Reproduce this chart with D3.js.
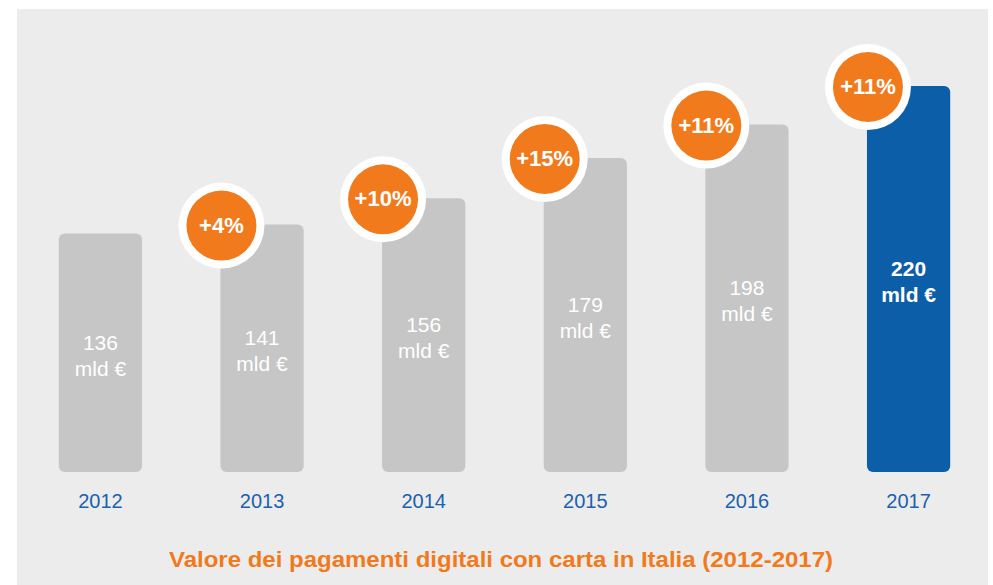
<!DOCTYPE html>
<meta charset="utf-8">
<style>
  body { margin: 0; background: #fff; }
  text { font-family: "Liberation Sans", Arial, Helvetica, sans-serif; }
</style>
<body>
<script src="https://cdn.jsdelivr.net/npm/d3@7"></script>
<script>
// data
let years = ["2012", "2013", "2014", "2015", "2016", "2017"];
let values = [136, 141, 156, 179, 198, 220];
let growth = [null, "+4%", "+10%", "+15%", "+11%", "+11%"];
let unit = "mld €";
let title = "Valore dei pagamenti digitali con carta in Italia (2012-2017)";

let width = 993, height = 585;
let grey = "#c6c6c6", blue = "#0c5ea8", orange = "#f07a1c";

let svg = d3.select("body").append("svg")
    .attr("width", width)
    .attr("height", height);

// light panel behind everything
svg.append("rect")
    .attr("x", 17).attr("y", 9)
    .attr("width", 971).attr("height", height - 9)
    .attr("fill", "#ececec");

let xScale = d3.scaleBand()
    .domain(years)
    .range([59 - 39, 950 + 39])
    .paddingInner(0.485)
    .paddingOuter(0.24);

let yScale = d3.scaleLinear()
    .domain([0, 220])
    .range([472, 86]);

let last = years.length - 1;

let bars = svg.append("g").selectAll("g")
    .data(years)
    .enter().append("g");

bars.append("rect")
    .attr("x", d => xScale(d))
    .attr("y", (d, i) => yScale(values[i]))
    .attr("width", xScale.bandwidth())
    .attr("height", (d, i) => yScale(0) - yScale(values[i]))
    .attr("rx", 6)
    .attr("fill", (d, i) => i == last ? blue : grey);

// value labels, two lines in the middle of each bar
bars.each(function(d, i) {
    let mid = (yScale(values[i]) + yScale(0)) / 2;
    let t = d3.select(this).append("text")
        .attr("text-anchor", "middle")
        .attr("fill", "#fff")
        .style("font-size", "21px")
        .style("font-weight", i == last ? "bold" : "normal");
    t.append("tspan")
        .attr("x", xScale(d) + xScale.bandwidth() / 2)
        .attr("y", mid - 3)
        .text(values[i]);
    t.append("tspan")
        .attr("x", xScale(d) + xScale.bandwidth() / 2)
        .attr("y", mid + 23)
        .text(unit);
});

// year labels under the bars
bars.append("text")
    .attr("x", d => xScale(d) + xScale.bandwidth() / 2)
    .attr("y", 508)
    .attr("text-anchor", "middle")
    .attr("fill", "#1a62ad")
    .style("font-size", "20px")
    .text(d => d);

// growth badges sitting on the top-left corner of each bar
let badges = bars.filter((d, i) => growth[i] != null);

badges.append("circle")
    .attr("cx", d => xScale(d) + 1)
    .attr("cy", d => yScale(values[years.indexOf(d)]) + 1)
    .attr("r", 43)
    .attr("fill", "#fff");

badges.append("circle")
    .attr("cx", d => xScale(d) + 1)
    .attr("cy", d => yScale(values[years.indexOf(d)]) + 1)
    .attr("r", 35)
    .attr("fill", orange);

badges.append("text")
    .attr("x", d => xScale(d) + 1)
    .attr("y", d => yScale(values[years.indexOf(d)]) + 8)
    .attr("text-anchor", "middle")
    .attr("fill", "#fff")
    .style("font-size", "22px")
    .style("font-weight", "bold")
    .text(d => growth[years.indexOf(d)]);

svg.append("text")
    .attr("x", 501)
    .attr("y", 567)
    .attr("text-anchor", "middle")
    .attr("fill", orange)
    .style("font-size", "22.5px")
    .style("font-weight", "bold")
    .attr("textLength", 664)
    .attr("lengthAdjust", "spacingAndGlyphs")
    .text(title);
</script>
</body>
